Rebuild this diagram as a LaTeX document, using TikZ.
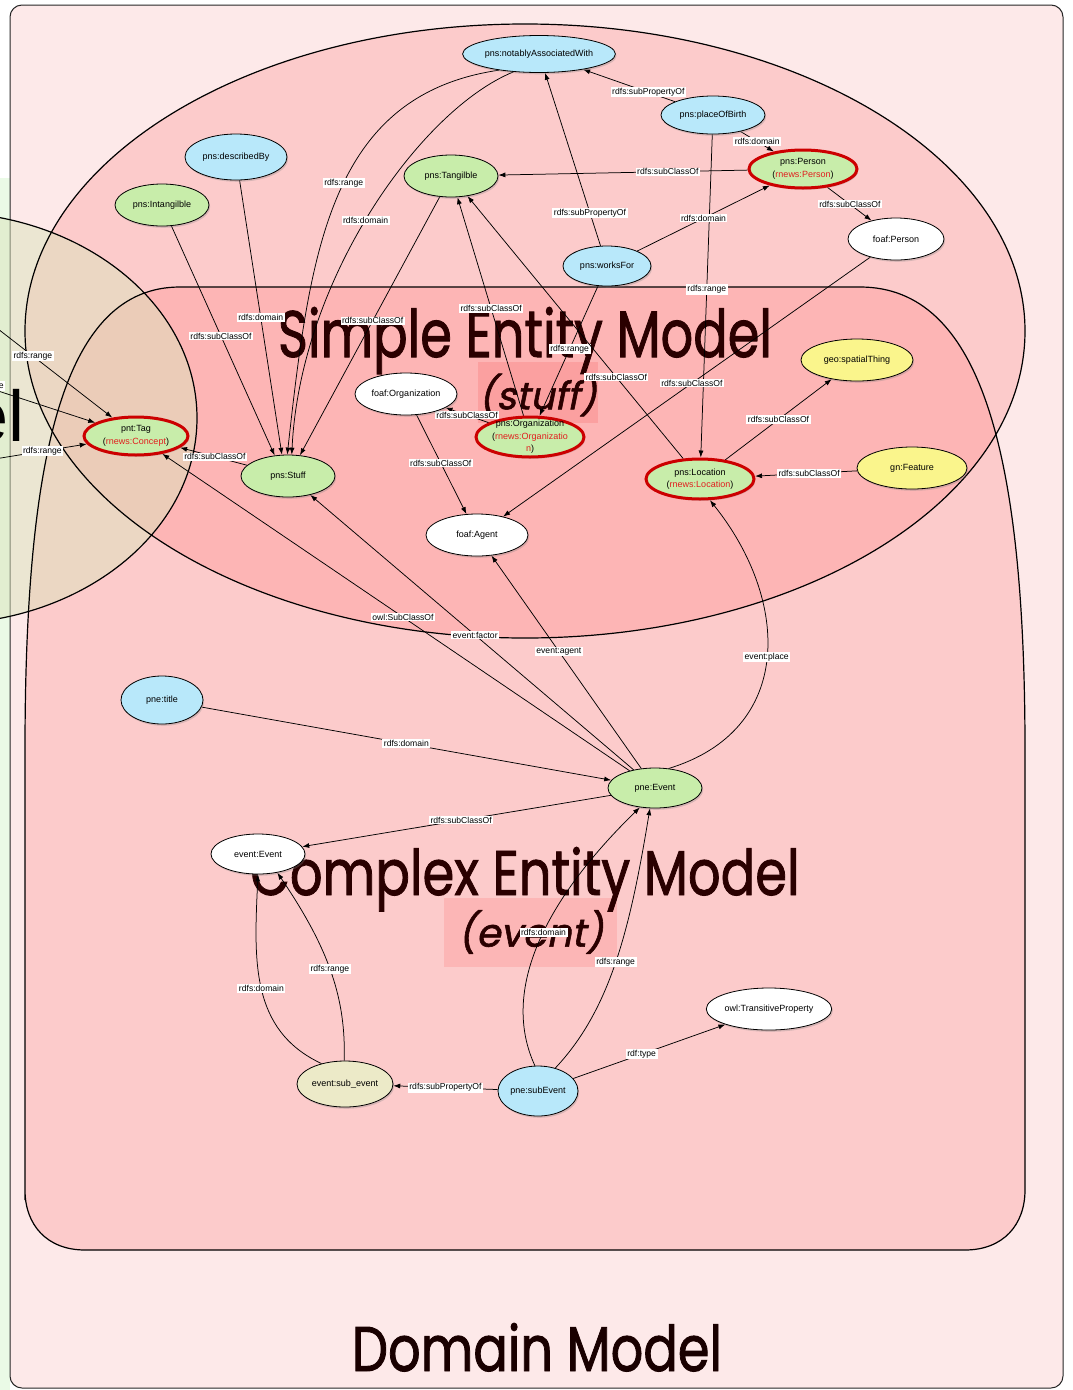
\documentclass[tikz,border=0pt]{standalone}
\usepackage{fontspec}
\setmainfont{Liberation Sans}
\newfontfamily\futura{Poppins}[FakeBold=1.5]
\newfontfamily\futuraobl{Poppins}[FakeSlant=0.2,FakeBold=1.5]
\usetikzlibrary{shapes.geometric,arrows.meta,shadows}
\pgfdeclarelayer{bg}
\pgfdeclarelayer{edges}
\pgfsetlayers{bg,edges,main}
\definecolor{domfill}{RGB}{253,233,233}
\definecolor{pinkA}{RGB}{252,203,203}
\definecolor{pinkB}{RGB}{253,181,181}
\definecolor{stuffhl}{RGB}{251,160,160}
\definecolor{eventhl}{RGB}{252,182,182}
\definecolor{beigeov}{RGB}{219,228,188}
\definecolor{lgreen}{RGB}{234,250,230}
\definecolor{cblue}{RGB}{184,232,250}
\definecolor{cgreen}{RGB}{200,237,170}
\definecolor{cyellow}{RGB}{250,245,140}
\definecolor{cbeige}{RGB}{236,234,200}
\definecolor{cred}{RGB}{204,0,0}
\definecolor{ctxt}{RGB}{225,30,30}
\definecolor{titlec}{RGB}{42,0,0}
\def\cxpath{(25,1200) -- (25,750) .. controls (25,450) and (65,287) .. (180,287) -- (860,287) .. controls (980,287) and (1025,450) .. (1025,750) -- (1025,1190) .. controls (1025,1225) and (1003,1250) .. (965,1250) -- (85,1250) .. controls (47,1250) and (25,1225) .. (25,1190) -- cycle}
\begin{document}
\begin{tikzpicture}[x=1pt,y=-1pt,
  ent/.style={ellipse, draw=black, line width=0.8pt, inner sep=0pt, font=\fontsize{9}{12.5}\selectfont, align=center,
     drop shadow={shadow xshift=1.2pt, shadow yshift=-1.8pt, opacity=0.3}},
  sz/.style 2 args={minimum width=#1pt, minimum height=#2pt},
  bl/.style={ent, fill=cblue},
  gr/.style={ent, fill=cgreen},
  ye/.style={ent, fill=cyellow},
  wh/.style={ent, fill=white},
  be/.style={ent, fill=cbeige},
  rd/.style={draw=cred, line width=3pt},
  ntext/.style={inner sep=0pt, font=\fontsize{9}{12.5}\selectfont, align=center},
  lbl/.style={fill=white, inner xsep=1.5pt, inner ysep=1pt, font=\fontsize{8.6}{10}\selectfont},
  arr/.style={line width=0.75pt, -{Latex[length=7pt,width=5pt]}},
  big/.style={inner sep=0pt, text=titlec}]
\useasboundingbox (0,0) rectangle (1073,1390);

\begin{pgfonlayer}{bg}
\fill[lgreen] (0,178) rectangle (10,1390);
\draw[fill=domfill, draw=black!85, line width=1pt, rounded corners=12pt] (10,5) rectangle (1063,1388);
\fill[pinkA] \cxpath;
\fill[pinkA] (525,331) ellipse [x radius=500, y radius=307];
\begin{scope}
\clip (525,331) ellipse [x radius=500, y radius=307];
\fill[pinkB] \cxpath;
\end{scope}
\fill[beigeov, fill opacity=0.5] (-60,418) ellipse [x radius=257, y radius=206];
\draw[line width=1.2pt] \cxpath;
\draw[line width=1.2pt] (525,331) ellipse [x radius=500, y radius=307];
\draw[line width=1.2pt] (-60,418) ellipse [x radius=257, y radius=206];
\fill[stuffhl] (478,362) rectangle (598,423);
\fill[eventhl] (444,898) rectangle (617,967);
\node[big, anchor=base] (tsimple) at (525,357) {\resizebox{494pt}{50pt}{\futura Simple Entity Model}};
\node[big] (tstuff) at (538,395) {\resizebox{118pt}{!}{\futuraobl (stuff)}};
\node[big, anchor=base] (tcomplex) at (525,895) {\resizebox{549pt}{48pt}{\futura Complex Entity Model}};
\node[big] (tevent) at (531,932) {\resizebox{145pt}{!}{\futuraobl (event)}};
\node[big, anchor=base, text=black!90!red] (tdomain) at (537,1371) {\resizebox{370pt}{48pt}{\futura Domain Model}};
\node[inner sep=0pt, anchor=base east, font=\fontsize{72}{72}\selectfont] (elfrag) at (25,441) {Model};
\end{pgfonlayer}

% entity nodes
\node[bl, sz={152}{37}] (notably) at (539,54) {pns:notablyAssociatedWith};
\node[bl, sz={104}{38}] (pob) at (713,115) {pns:placeOfBirth};
\node[gr, rd, sz={108}{38}] (person) at (803,169) {pns:Person\\(\textcolor{ctxt}{rnews:Person})};
\node[bl, sz={102}{46}] (described) at (236,157) {pns:describedBy};
\node[gr, sz={94}{42}] (intang) at (162,205) {pns:Intangilble};
\node[gr, sz={94}{42}] (tang) at (451,176) {pns:Tangilble};
\node[wh, sz={96}{42}] (fperson) at (896,239) {foaf:Person};
\node[bl, sz={88}{40}] (works) at (607,266) {pns:worksFor};
\node[ye, sz={112}{42}] (geo) at (857,360) {geo:spatialThing};
\node[wh, sz={102}{42}] (forg) at (406,394) {foaf:Organization};
\node[gr, rd, sz={108}{40}] (org) at (530,437) {};
\node[ntext] (orgtxt) at (org.center) {pns:Organization\\(\textcolor{ctxt}{rnews:Organizatio}\\\textcolor{ctxt}{n})};
\node[gr, rd, sz={104}{38}] (tag) at (136,436) {pnt:Tag\\(\textcolor{ctxt}{rnews:Concept})};
\node[gr, sz={94}{42}] (stuff) at (288,476) {pns:Stuff};
\node[ye, sz={110}{42}] (gnf) at (912,468) {gn:Feature};
\node[gr, rd, sz={108}{40}] (loc) at (700,479) {pns:Location\\(\textcolor{ctxt}{rnews:Location})};
\node[wh, sz={102}{42}] (agent) at (477,535) {foaf:Agent};
\node[bl, sz={82}{48}] (title) at (162,700) {pne:title};
\node[gr, sz={94}{40}] (event) at (655,788) {pne:Event};
\node[wh, sz={94}{40}] (eevent) at (258,854) {event:Event};
\node[wh, sz={122}{42}] (trans) at (769,1009) {owl:TransitiveProperty};
\node[be, sz={96}{46}] (subev) at (345,1084) {event:sub\_event};
\node[bl, sz={80}{50}] (psub) at (538,1091) {pne:subEvent};

\coordinate (lt1) at (-20,315);
\coordinate (lt2) at (-60,372);
\coordinate (lt3) at (-30,463);

\begin{pgfonlayer}{edges}
\draw[arr] (pob) -- node[lbl,pos=.29]{rdfs:subPropertyOf} (notably);
\draw[arr] (pob) -- node[lbl,pos=.5]{rdfs:domain} (person);
\draw[arr] (pob) -- node[lbl,pos=.48]{rdfs:range} (loc);
\draw[arr] (person) -- node[lbl,pos=.32]{rdfs:subClassOf} (tang);
\draw[arr] (person) -- node[lbl,pos=.51]{rdfs:subClassOf} (fperson);
\draw[arr] (works) -- node[lbl,pos=.5]{rdfs:domain} (person);
\draw[arr] (works) -- node[lbl,pos=.19]{rdfs:subPropertyOf} (notably);
\draw[arr] (works) -- node[lbl,pos=.485]{rdfs:range} (org);
\draw[arr] (notably.202) .. controls (330,95) and (310,250) .. node[lbl,pos=.47]{rdfs:range} (stuff.92);
\draw[arr] (notably.215) .. controls (420,110) and (300,280) .. node[lbl,pos=.52]{rdfs:domain} (stuff.80);
\draw[arr] (intang) -- node[lbl,pos=.48]{rdfs:subClassOf} (stuff.123);
\draw[arr] (described) -- node[lbl,pos=.5]{rdfs:domain} (stuff.106);
\draw[arr] (tang) -- node[lbl,pos=.48]{rdfs:subClassOf} (stuff.60);
\draw[arr] (org) -- node[lbl,pos=.49]{rdfs:subClassOf} (tang);
\draw[arr] (loc) -- node[lbl,pos=.31]{rdfs:subClassOf} (tang);
\draw[arr] (org) -- node[lbl,pos=.5]{rdfs:subClassOf} (forg);
\draw[arr] (forg) -- node[lbl,pos=.485]{rdfs:subClassOf} (agent);
\draw[arr] (fperson) -- node[lbl,pos=.486]{rdfs:subClassOf} (agent);
\draw[arr] (loc) -- node[lbl,pos=.5]{rdfs:subClassOf} (geo);
\draw[arr] (gnf) -- node[lbl,pos=.47]{rdfs:subClassOf} (loc);
\draw[arr] (stuff) -- node[lbl,pos=.48]{rdfs:subClassOf} (tag);
\draw[arr] (lt1) -- node[lbl,pos=.4]{rdfs:range} (tag);
\draw[arr] (lt2) -- node[lbl,pos=.285]{rdfs:range} (tag);
\draw[arr] (lt3) -- node[lbl,pos=.62]{rdfs:range} (tag);
\draw[arr] (event) -- node[lbl,pos=.485]{owl:SubClassOf} (tag);
\draw[arr] (event) -- node[lbl,pos=.49]{event:factor} (stuff);
\draw[arr] (event) -- node[lbl,pos=.55]{event:agent} (agent);
\draw[arr] (event.55) .. controls (795,730) and (790,600) .. node[lbl,pos=.5]{event:place} (loc.-65);
\draw[arr] (title) -- node[lbl,pos=.5]{rdfs:domain} (event);
\draw[arr] (event) -- node[lbl,pos=.485]{rdfs:subClassOf} (eevent);
\draw[arr] (psub.97) .. controls (500,990) and (545,900) .. node[lbl,pos=.54]{rdfs:domain} (event.232);
\draw[arr] (psub.53) .. controls (610,1010) and (630,930) .. node[lbl,pos=.5]{rdfs:range} (event.256);
\draw[arr] (psub) -- node[lbl,pos=.45]{rdf:type} (trans);
\draw[arr] (psub) -- node[lbl,pos=.5]{rdfs:subPropertyOf} (subev);
\draw[arr] (subev.92) .. controls (346,1000) and (330,950) .. node[lbl,pos=.52]{rdfs:range} (eevent.-44);
\draw[arr] (subev.139) .. controls (250,1030) and (254,960) .. node[lbl,pos=.5]{rdfs:domain} (eevent.south);
\end{pgfonlayer}
\end{tikzpicture}
\end{document}
